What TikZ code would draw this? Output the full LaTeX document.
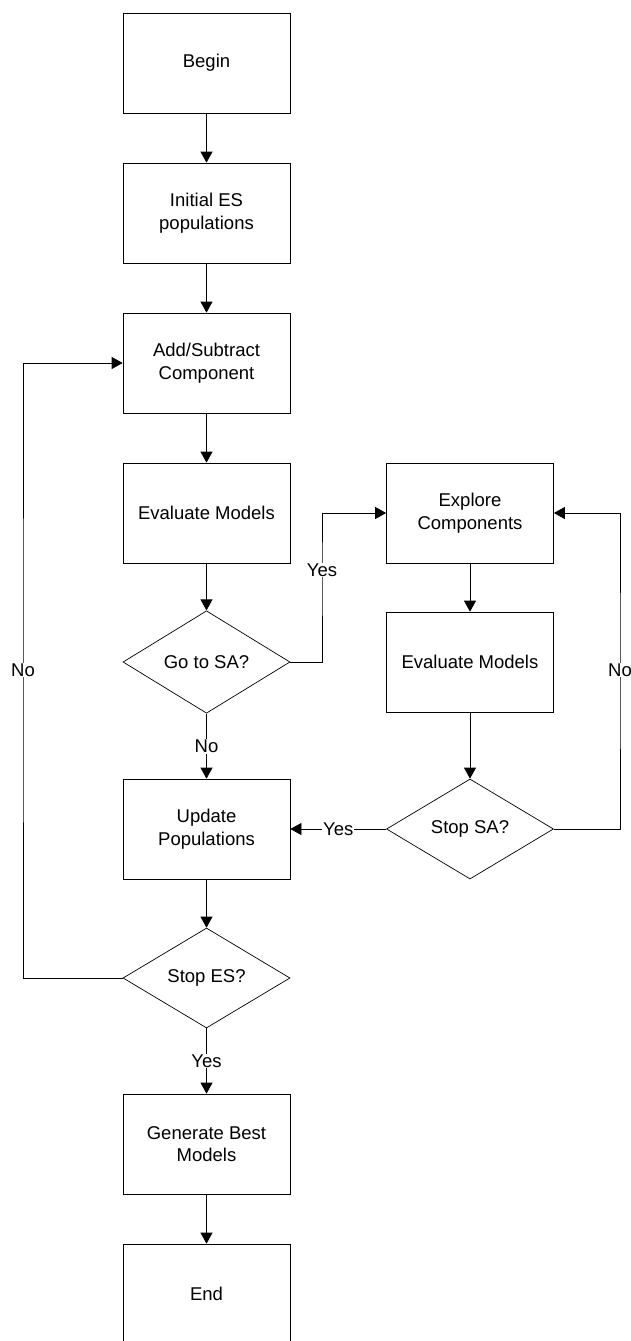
\documentclass[tikz,border=0pt]{standalone}
\usepackage{fontspec}
\setmainfont{Liberation Sans}
\usetikzlibrary{shapes,arrows.meta}

\tikzset{
  box/.style={draw, minimum width=167pt, minimum height=100pt, align=center, inner sep=1pt},
  decision/.style={draw, diamond, minimum width=167pt, minimum height=100pt, align=center, inner sep=1pt},
  lbl/.style={fill=white, inner sep=1pt},
  arr/.style={-{Triangle[length=11pt,width=12pt]}},
}

\begin{document}
\begin{tikzpicture}[x=1pt,y=-1pt,line width=0.7pt]
\fontsize{18.5}{22.5}\selectfont
\def\colL{206.5}
\def\colR{470}
\useasboundingbox (0,0) rectangle (631,1341);

% main ES loop
\node[box] (begin) at (\colL,63) {Begin};
\node[box] (init) at (\colL,213) {Initial ES\\populations};
\node[box] (add) at (\colL,363) {Add/Subtract\\Component};
\node[box] (evl) at (\colL,513) {Evaluate Models};
\node[decision] (gosa) at (\colL,662) {Go to SA?};
\node[box] (upd) at (\colL,829) {Update\\Populations};
\node[decision] (stopes) at (\colL,978) {Stop ES?};
\node[box] (gen) at (\colL,1144) {Generate Best\\Models};
\node[box] (finish) at (\colL,1294) {End};

% SA branch
\node[box] (explore) at (\colR,513) {Explore\\Components};
\node[box] (evr) at (\colR,662) {Evaluate Models};
\node[decision] (stopsa) at (\colR,829) {Stop SA?};

\draw[arr] (begin) -- (init);
\draw[arr] (init) -- (add);
\draw[arr] (add) -- (evl);
\draw[arr] (evl) -- (gosa);
\draw[arr] (gosa) -- node[lbl] (no1) {No} (upd);
\draw[arr] (upd) -- (stopes);
\draw[arr] (stopes) -- node[lbl] (yes3) {Yes} (gen);
\draw[arr] (gen) -- (finish);
\draw[arr] (explore) -- (evr);
\draw[arr] (evr) -- (stopsa);
\draw[arr] (stopsa) -- node[lbl] (yes2) {Yes} (upd);

% loops
\coordinate (turnA) at (322,570);
\coordinate (turnL) at (23,670);
\coordinate (turnR) at (620,670);
\draw[arr] (gosa.east) -| (turnA) node[lbl] (yes1) {Yes} |- (explore.west);
\draw[arr] (stopes.west) -| (turnL) node[lbl] (no2) {No} |- (add.west);
\draw[arr] (stopsa.east) -| (turnR) node[lbl] (no3) {No} |- (explore.east);
\end{tikzpicture}
\end{document}
